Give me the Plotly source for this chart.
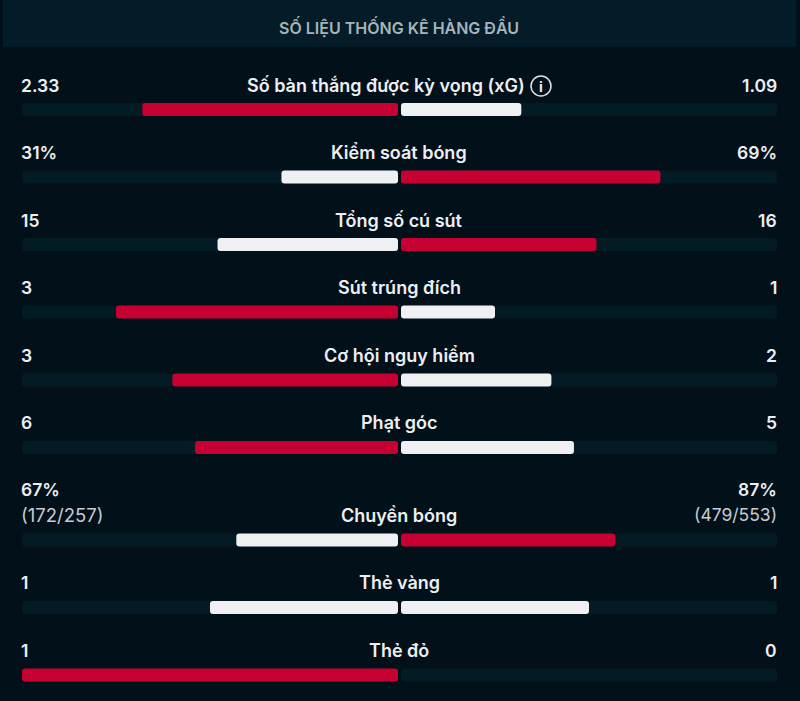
import plotly.graph_objects as go

labels = ["Số bàn thắng được kỳ vọng (xG)", "Kiểm soát bóng", "Tổng số cú sút", "Sút trúng đích",
          "Cơ hội nguy hiểm", "Phạt góc", "Chuyền bóng", "Thẻ vàng", "Thẻ đỏ"]
left_text = ["2.33", "31%", "15", "3", "3", "6", "67%<br>(172/257)", "1", "1"]
right_text = ["1.09", "69%", "16", "1", "2", "5", "87%<br>(479/553)", "1", "0"]
left_share = [68, 31, 48, 75, 60, 54, 43, 50, 100]
right_share = [32, 69, 52, 25, 40, 46, 57, 50, 0]
title = "SỐ LIỆU THỐNG KÊ HÀNG ĐẦU"

# layout
RED, WHITE, TRACK, BG, HEAD = "#c70032", "#eef0f2", "#031b25", "#02101a", "#031c27"
PX = 3.76  # pixels per share point
CX = 399.5
bar_y = [109.5, 177, 244.5, 312, 380, 447.5, 540, 607.5, 675]
label_y = [85.5, 152.5, 220.5, 287.5, 355.5, 422.5, 515.5, 582.5, 650.5]
FONT = "Inter"
NOLINE = dict(width=0)

def colours(a, b):
    return RED if a > b else WHITE

fig = go.Figure()
fig.add_bar(y=bar_y, x=[-100] * 9, base=-0.4, orientation="h", width=13,
            marker=dict(color=TRACK, line=NOLINE), hoverinfo="skip")
fig.add_bar(y=bar_y, x=[100] * 9, base=0.4, orientation="h", width=13,
            marker=dict(color=TRACK, line=NOLINE), hoverinfo="skip")
fig.add_bar(y=bar_y, x=[-v for v in left_share], base=-0.4, orientation="h", width=13,
            marker=dict(color=[colours(a, b) for a, b in zip(left_share, right_share)], line=NOLINE))
fig.add_bar(y=bar_y, x=right_share, base=0.4, orientation="h", width=13,
            marker=dict(color=[colours(b, a) for a, b in zip(left_share, right_share)], line=NOLINE))

fig.update_layout(
    width=800, height=701, margin=dict(l=0, r=0, t=0, b=0), showlegend=False,
    barmode="overlay", barcornerradius=3, paper_bgcolor=BG, plot_bgcolor=BG,
    xaxis=dict(range=[-CX / PX, (800 - CX) / PX], visible=False, fixedrange=True),
    yaxis=dict(range=[701, 0], visible=False, fixedrange=True),
)

def px_x(p):
    return (p - CX) / PX

fig.add_shape(type="rect", x0=px_x(3), x1=px_x(796), y0=-5, y1=47, fillcolor=HEAD, line_width=0, layer="below")

def note(x, y, text, size=18, color="#eceff1", anchor="center", weight=600, align="center"):
    fig.add_annotation(x=x, y=y, text=text, showarrow=False, xanchor=anchor, yanchor="middle", align=align,
                       font=dict(family=FONT, size=size, color=color, weight=weight))

note(px_x(399), 26.5, title, size=16, color="#a7b4b9")
for i, lab in enumerate(labels):
    note(px_x(385.5 if i == 0 else 399), label_y[i], lab)
    two = "<br>" in left_text[i]
    head_l, *rest_l = left_text[i].split("<br>")
    head_r, *rest_r = right_text[i].split("<br>")
    note(px_x(19), label_y[i] - (26 if two else 0), head_l, anchor="left", size=17.5)
    note(px_x(779), label_y[i] - (26 if two else 0), head_r, anchor="right", size=17.5)
    if rest_l:
        note(px_x(19), label_y[i] - 1, rest_l[0], anchor="left", weight=400, color="#c6ccd0", size=18.5)
        note(px_x(779), label_y[i] - 1, rest_r[0], anchor="right", weight=400, color="#c6ccd0", size=17.5)

fig.add_shape(type="circle", x0=px_x(531), x1=px_x(551), y0=76, y1=96, line=dict(color="#dfe3e5", width=1.5))
note(px_x(541), 86, "i", size=14, weight=700)

fig.write_html("out.html", config=dict(displayModeBar=False),
               post_script="document.body.style.margin='0';document.body.style.background='#02101a';")
